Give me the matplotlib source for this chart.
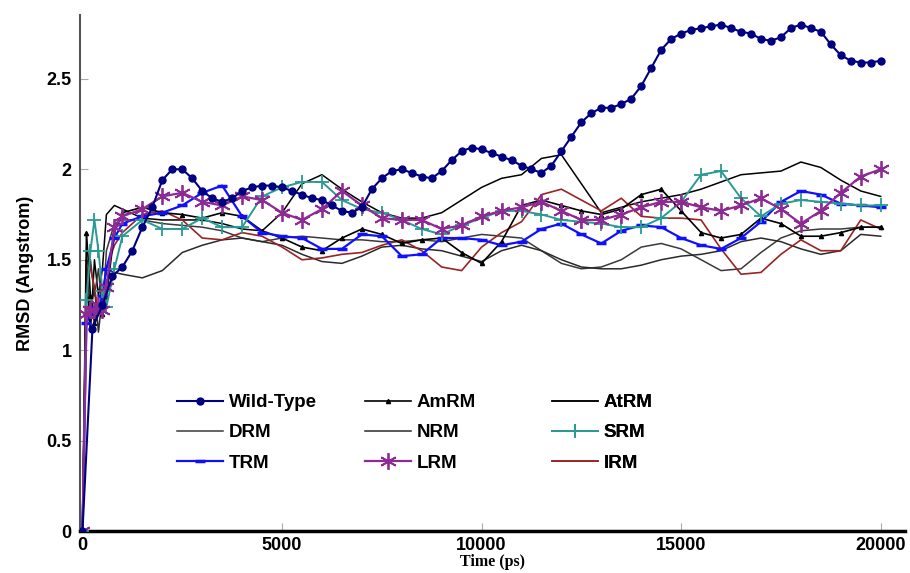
import matplotlib
matplotlib.use('Agg')
import matplotlib.pyplot as plt

# time axis (ps)
t_wt = list(range(0, 20001, 250))
t_mut = [0, 100, 200, 300, 400, 500, 600, 800] + list(range(1000, 20001, 500))

# RMSD values (Angstrom)
wild_type = [0.00, 1.12, 1.25, 1.41, 1.46, 1.55, 1.68, 1.79, 1.94, 2.00,
             2.00, 1.95, 1.88, 1.84, 1.82, 1.84, 1.88, 1.90, 1.91, 1.91,
             1.90, 1.88, 1.86, 1.84, 1.83, 1.80, 1.77, 1.76, 1.79, 1.89,
             1.95, 1.99, 2.00, 1.98, 1.96, 1.95, 1.99, 2.05, 2.10, 2.12,
             2.11, 2.09, 2.07, 2.05, 2.02, 2.00, 1.98, 2.02, 2.10, 2.18,
             2.26, 2.31, 2.34, 2.34, 2.36, 2.39, 2.46, 2.56, 2.66, 2.72,
             2.75, 2.77, 2.78, 2.79, 2.80, 2.78, 2.76, 2.75, 2.72, 2.71,
             2.73, 2.78, 2.80, 2.78, 2.76, 2.69, 2.63, 2.60, 2.59, 2.59,
             2.60]

amrm = [0.00, 1.65, 1.30, 1.15, 1.25, 1.20, 1.30, 1.65,
        1.76, 1.79, 1.76, 1.75, 1.73, 1.76, 1.74, 1.66, 1.62, 1.57,
        1.55, 1.62, 1.67, 1.64, 1.59, 1.61, 1.62, 1.54, 1.48, 1.60,
        1.80, 1.83, 1.80, 1.77, 1.75, 1.78, 1.86, 1.89, 1.77, 1.65,
        1.62, 1.64, 1.73, 1.70, 1.63, 1.63, 1.65, 1.68, 1.68]

atrm = [0.00, 1.40, 1.10, 1.50, 1.30, 1.45, 1.75, 1.80,
        1.78, 1.73, 1.72, 1.72, 1.72, 1.70, 1.67, 1.66, 1.76, 1.92,
        1.97, 1.89, 1.82, 1.76, 1.73, 1.73, 1.76, 1.83, 1.90, 1.95,
        1.97, 2.06, 2.08, 1.92, 1.76, 1.79, 1.82, 1.84, 1.86, 1.89,
        1.93, 1.97, 1.98, 1.99, 2.04, 2.01, 1.94, 1.88, 1.85]

drm = [0.00, 1.30, 1.50, 1.30, 1.45, 1.20, 1.55, 1.70,
       1.72, 1.72, 1.70, 1.69, 1.68, 1.66, 1.62, 1.60, 1.62, 1.63,
       1.62, 1.61, 1.61, 1.60, 1.60, 1.61, 1.60, 1.62, 1.64, 1.63,
       1.62, 1.55, 1.48, 1.45, 1.46, 1.50, 1.57, 1.59, 1.56, 1.50,
       1.44, 1.45, 1.54, 1.62, 1.66, 1.67, 1.67, 1.68, 1.68]

nrm = [0.00, 1.50, 1.20, 1.35, 1.10, 1.30, 1.45, 1.43,
       1.42, 1.40, 1.44, 1.54, 1.58, 1.61, 1.62, 1.60, 1.58, 1.53,
       1.49, 1.48, 1.52, 1.57, 1.58, 1.56, 1.55, 1.52, 1.49, 1.55,
       1.58, 1.55, 1.50, 1.46, 1.45, 1.45, 1.47, 1.50, 1.52, 1.53,
       1.55, 1.60, 1.62, 1.60, 1.56, 1.53, 1.55, 1.64, 1.63]

srm = [0.00, 1.28, 1.55, 1.72, 1.55, 1.33, 1.24, 1.45,
       1.63, 1.72, 1.67, 1.67, 1.73, 1.68, 1.68, 1.85, 1.90, 1.93,
       1.93, 1.83, 1.78, 1.76, 1.72, 1.67, 1.64, 1.69, 1.73, 1.77,
       1.77, 1.75, 1.72, 1.71, 1.70, 1.68, 1.68, 1.73, 1.82, 1.97,
       1.99, 1.84, 1.74, 1.81, 1.83, 1.82, 1.81, 1.80, 1.80]

trm = [0.00, 1.15, 1.20, 1.24, 1.22, 1.30, 1.45, 1.62,
       1.70, 1.74, 1.76, 1.80, 1.87, 1.91, 1.74, 1.65, 1.63, 1.62,
       1.56, 1.56, 1.64, 1.63, 1.52, 1.53, 1.62, 1.62, 1.61, 1.58,
       1.60, 1.67, 1.70, 1.64, 1.59, 1.66, 1.69, 1.68, 1.62, 1.58,
       1.56, 1.62, 1.71, 1.82, 1.88, 1.86, 1.81, 1.80, 1.79]

lrm = [0.00, 1.20, 1.22, 1.22, 1.25, 1.22, 1.35, 1.68,
       1.74, 1.78, 1.85, 1.87, 1.82, 1.80, 1.85, 1.83, 1.76, 1.72,
       1.78, 1.88, 1.80, 1.73, 1.72, 1.72, 1.67, 1.69, 1.74, 1.77,
       1.79, 1.82, 1.77, 1.72, 1.72, 1.75, 1.79, 1.82, 1.82, 1.79,
       1.77, 1.80, 1.84, 1.78, 1.70, 1.77, 1.87, 1.96, 2.00]

irm = [0.00, 1.50, 1.45, 1.35, 1.20, 1.30, 1.45, 1.58,
       1.65, 1.75, 1.77, 1.72, 1.62, 1.61, 1.65, 1.63, 1.57, 1.50,
       1.51, 1.53, 1.54, 1.58, 1.61, 1.55, 1.46, 1.44, 1.57, 1.65,
       1.71, 1.86, 1.89, 1.83, 1.77, 1.84, 1.74, 1.73, 1.73, 1.72,
       1.56, 1.42, 1.43, 1.53, 1.61, 1.55, 1.55, 1.72, 1.67]

y_ticks = [0, 0.5, 1, 1.5, 2, 2.5]
y_tick_labels = ['0', '0.5', '1', '1.5', '2', '2.5']
x_ticks = [0, 5000, 10000, 15000, 20000]

# legend columns as read left to right in the figure
legend_cols = [['Wild-Type', 'DRM', 'TRM'],
               ['AmRM', 'NRM', 'LRM'],
               ['AtRM', 'SRM', 'IRM']]

plt.rcParams['font.family'] = ['Liberation Sans', 'DejaVu Sans']

fig = plt.figure(figsize=(9.1, 5.73), dpi=100)
ax = fig.add_axes([0.088, 0.073, 0.907, 0.90])

lines = {}
lines['AtRM'] = ax.plot(t_mut, atrm, color='black', lw=1.1, zorder=2)[0]
lines['DRM'] = ax.plot(t_mut, drm, color='#3a3a3a', lw=1.1, zorder=2)[0]
lines['NRM'] = ax.plot(t_mut, nrm, color='#2a2a2a', lw=1.1, zorder=2)[0]
lines['IRM'] = ax.plot(t_mut, irm, color='#9b2323', lw=1.2, zorder=3)[0]
lines['AmRM'] = ax.plot(t_mut, amrm, color='black', lw=1.2, marker='^',
                        ms=3, zorder=4)[0]
lines['TRM'] = ax.plot(t_mut, trm, color='#1010ff', lw=1.6, marker='_',
                       ms=7, mew=2.5, zorder=5)[0]
lines['SRM'] = ax.plot(t_mut, srm, color='#2a9a93', lw=1.4, marker='+',
                       ms=10, mew=1.3, zorder=6)[0]
lines['LRM'] = ax.plot(t_mut, lrm, color='#8e2a93', lw=1.6, marker=(6, 2, 0),
                       ms=12, mew=1.3, zorder=7)[0]
lines['Wild-Type'] = ax.plot(t_wt, wild_type, color='#000080', lw=1.5,
                             marker='o', ms=5, zorder=8)[0]

# one legend per column so the columns sit at even spacing
col_x = [177, 365, 552]
for i, names in enumerate(legend_cols):
    leg = ax.legend([lines[k] for k in names], names, frameon=False,
                    loc='upper left', bbox_to_anchor=(col_x[i] / 910, (573 - 394) / 573),
                    bbox_transform=fig.transFigure, borderpad=0, borderaxespad=0,
                    prop={'weight': 'bold', 'size': 13.5}, handlelength=2.45,
                    labelspacing=0.7, handletextpad=0.3, numpoints=1)
    ax.add_artist(leg)

ax.set_xlim(-60, 20620)
ax.set_ylim(0, 2.85)
ax.set_yticks(y_ticks)
ax.set_yticklabels(y_tick_labels)
ax.set_xticks(x_ticks)
ax.spines['top'].set_visible(False)
ax.spines['right'].set_visible(False)
ax.spines['left'].set_color('#555555')
ax.spines['left'].set_linewidth(1.5)
ax.spines['bottom'].set_color('black')
ax.spines['bottom'].set_linewidth(2.5)
ax.tick_params(axis='both', direction='in', length=6, width=0.8,
               color='#aaaaaa', labelsize=13, pad=6)
ax.tick_params(axis='x', pad=4)
for lab in ax.get_xticklabels() + ax.get_yticklabels():
    lab.set_fontweight('bold')

ax.set_ylabel('RMSD (Angstrom)', fontsize=13, fontweight='bold', labelpad=9)
ax.set_xlabel('Time (ps)', fontsize=11.5, fontweight='bold',
              family='Liberation Serif', labelpad=0)

fig.savefig('out.png', dpi=100)
